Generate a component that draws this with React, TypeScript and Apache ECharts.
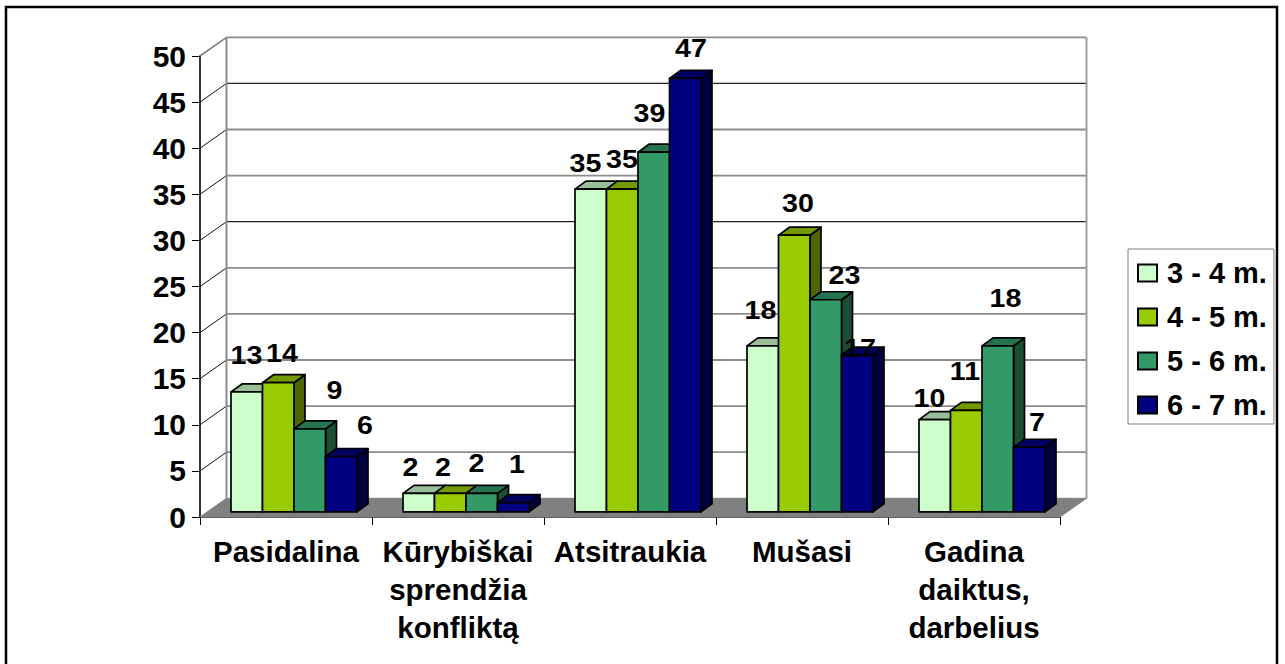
import React, { useEffect, useRef } from "react";
import * as echarts from "echarts";

const categories = ["Pasidalina", "Kūrybiškai\nsprendžia\nkonfliktą", "Atsitraukia", "Mušasi", "Gadina\ndaiktus,\ndarbelius"];
const seriesNames = ["3 - 4 m.", "4 - 5 m.", "5 - 6 m.", "6 - 7 m."];
const values34 = [13, 2, 35, 18, 10];
const values45 = [14, 2, 35, 30, 11];
const values56 = [9, 2, 39, 23, 18];
const values67 = [6, 1, 47, 17, 7];
const allValues = [values34, values45, values56, values67];
const tickValues = [0, 5, 10, 15, 20, 25, 30, 35, 40, 45, 50];

// [front, top, side] shades per series
const shades = [
  ["#CCFFCC", "#99BF99", "#668066"],
  ["#99CC00", "#739900", "#4D6600"],
  ["#339966", "#267350", "#1A4D33"],
  ["#000080", "#000060", "#000040"],
];
const darkGrid = [45, 30];

// where Excel left each data label, relative to the top-centre of its bar [dx, dy], per series
const labelShift = [
  [[0, -37], [-8, -26], [-5, -26], [-2, -36], [-5, -21]],
  [[4, -29], [-7, -26], [0, -30], [4, -32], [-1, -39]],
  [[25, -39], [-5, -30], [-4, -39], [19, -24], [8, -48]],
  [[24, -31], [4, -38], [6, -30], [3, -7], [8, -25]],
];

const FONT = "Liberation Sans";
const WALL_DX = 26.5, WALL_DY = -18.7;
const PLANE_DX = 8, PLANE_DY = -5.2;
const BAR_W = 31.5, DEPTH_DX = 11, DEPTH_DY = -8;

function wallItem(_p: any, api: any) {
  const v = api.value(0);
  const [cx, y] = api.coord([0, v]);
  const band = api.size([1, 0])[0];
  const x0 = cx - band / 2;
  const x1 = x0 + band * categories.length;
  const children: any[] = [];
  const bx0 = x0 + WALL_DX, bx1 = x1 + WALL_DX, by = y + WALL_DY;
  if (v === 0) {
    children.push({
      type: "polygon",
      shape: { points: [[x0, y], [bx0, by], [bx1, by], [x1, y]] },
      style: { fill: "#808080", stroke: "#808080", lineWidth: 1 },
    });
  } else {
    const top = v === 50;
    children.push({
      type: "line",
      shape: { x1: bx0, y1: by, x2: bx1, y2: by },
      style: { stroke: darkGrid.includes(v) ? "#222222" : "#8c8c8c", lineWidth: darkGrid.includes(v) ? 1.2 : 1.8 },
    });
    children.push({
      type: "line",
      shape: { x1: x0, y1: y, x2: bx0, y2: by },
      style: { stroke: top ? "#808080" : "#111111", lineWidth: top ? 1.6 : 1 },
    });
    if (top) {
      const [, yz] = api.coord([0, 0]);
      children.push({ type: "line", shape: { x1: bx0, y1: by, x2: bx0, y2: yz + WALL_DY }, style: { stroke: "#8c8c8c", lineWidth: 2 } });
      children.push({ type: "line", shape: { x1: bx1, y1: by, x2: bx1, y2: yz + WALL_DY }, style: { stroke: "#a0a0a0", lineWidth: 2 } });
    }
  }
  return { type: "group", children };
}

function barItem(s: number) {
  return (_p: any, api: any) => {
    const cat = api.value(0);
    const [cx, yTop] = api.coord([cat, api.value(1)]);
    const [, yZero] = api.coord([cat, 0]);
    const l = cx + PLANE_DX - 2 * BAR_W + s * BAR_W;
    const r = l + BAR_W;
    const t = yTop + PLANE_DY;
    const b = yZero + PLANE_DY;
    const stroke = { stroke: "#000", lineWidth: 1.7, lineJoin: "round" };
    return {
      type: "group",
      children: [
        { type: "polygon", shape: { points: [[r, b], [r + DEPTH_DX, b + DEPTH_DY], [r + DEPTH_DX, t + DEPTH_DY], [r, t]] }, style: { fill: shades[s][2], ...stroke } },
        { type: "polygon", shape: { points: [[l, t], [l + DEPTH_DX, t + DEPTH_DY], [r + DEPTH_DX, t + DEPTH_DY], [r, t]] }, style: { fill: shades[s][1], ...stroke } },
        { type: "polygon", shape: { points: [[l, t], [r, t], [r, b], [l, b]] }, style: { fill: shades[s][0], ...stroke } },
      ],
    };
  };
}

function labelItem(_p: any, api: any) {
  const cat = api.value(0), s = api.value(1), v = api.value(2);
  const [cx, yTop] = api.coord([cat, v]);
  const [dx, dy] = labelShift[s][cat];
  const x = cx + 7.7 - 2 * BAR_W + (s + 0.5) * BAR_W + dx;
  const y = yTop - 5.5 + dy;
  return {
    type: "text",
    x, y,
    scaleX: 1.1,
    style: { text: String(v), fill: "#000", font: `bold 26px "${FONT}"`, align: "center", verticalAlign: "middle" },
  };
}

const labelRows: number[][] = [];
allValues.forEach((vals, s) => vals.forEach((v, c) => labelRows.push([c, s, v])));

export default function App() {
  const ref = useRef<HTMLDivElement>(null);
  useEffect(() => {
    const chart = echarts.init(ref.current!, undefined, { renderer: "svg" });
    chart.setOption({
      animation: false,
      backgroundColor: "#fff",
      grid: { left: 200, right: 225, top: 56, bottom: 147, containLabel: false },
      xAxis: {
        type: "category",
        data: categories,
        axisLine: { lineStyle: { color: "#000", width: 1.6 } },
        axisTick: { show: true, length: 8, alignWithLabel: false, lineStyle: { color: "#000", width: 1 } },
        axisLabel: { interval: 0, margin: 15, color: "#000", fontFamily: FONT, fontWeight: "bold", fontSize: 29.5, lineHeight: 38, hideOverlap: false },
        splitLine: { show: false },
      },
      yAxis: {
        type: "value",
        min: 0,
        max: 50,
        interval: 5,
        axisLine: { show: true, lineStyle: { color: "#000", width: 1.6 } },
        axisTick: { show: true, length: 8, lineStyle: { color: "#000", width: 1 } },
        axisLabel: { margin: 14, color: "#000", fontFamily: FONT, fontWeight: "bold", fontSize: 30 },
        splitLine: { show: false },
      },
      legend: {
        left: 1128,
        top: 249,
        orient: "vertical",
        data: seriesNames,
        selectedMode: false,
        icon: "rect",
        itemWidth: 19,
        itemHeight: 17,
        itemGap: 15,
        padding: [9.5, 7, 4.5, 9],
        backgroundColor: "#fff",
        borderColor: "#808080",
        borderWidth: 1,
        itemStyle: { borderColor: "#000", borderWidth: 2 },
        textStyle: { color: "#000", fontFamily: FONT, fontWeight: "bold", fontSize: 29, padding: [0, 0, 0, 5] },
      },
      graphic: [
        { type: "rect", silent: true, z: 100, shape: { x: 6, y: 7, width: 1271, height: 720 }, style: { fill: "none", stroke: "#000", lineWidth: 2.5 } },
      ],
      series: [
        { type: "custom", name: "walls", renderItem: wallItem, data: tickValues.map((v) => [v]), clip: false, silent: true, z: 1, encode: { y: 0 } },
        ...seriesNames.map((name, s) => ({
          type: "custom",
          name,
          renderItem: barItem(s),
          data: allValues[s].map((v, c) => [c, v]),
          encode: { x: 0, y: 1 },
          clip: false,
          z: 2,
          itemStyle: { color: shades[s][0] },
        })),
        { type: "custom", name: "labels", renderItem: labelItem, data: labelRows, clip: false, silent: true, z: 5, encode: { x: 0, y: 2 } },
      ],
    });
    return () => chart.dispose();
  }, []);
  return <div ref={ref} style={{ position: "fixed", left: 0, top: 0, width: 1285, height: 664 }} />;
}
